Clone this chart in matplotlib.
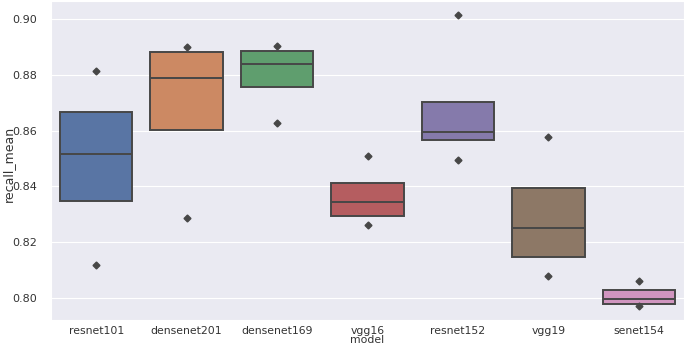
import matplotlib
matplotlib.use("Agg")
import matplotlib.pyplot as plt
import seaborn as sns

models = ["resnet101", "densenet201", "densenet169", "vgg16", "resnet152", "vgg19", "senet154"]
q1 = [0.8348, 0.8603, 0.8755, 0.8294, 0.8566, 0.8146, 0.7977]
med = [0.8517, 0.8790, 0.8840, 0.8345, 0.8597, 0.8252, 0.7996]
q3 = [0.8667, 0.8881, 0.8885, 0.8412, 0.8704, 0.8394, 0.8030]
low_pts = [0.8118, 0.8286, 0.8626, 0.8262, 0.8494, 0.8078, 0.7970]
high_pts = [0.8815, 0.8900, 0.8902, 0.8509, 0.9014, 0.8578, 0.8060]

sns.set_style("darkgrid")
plt.rcParams["font.family"] = ["DejaVu Sans"]

colors = sns.color_palette("deep", len(models), desat=0.75)
gray = "#474747"

fig = plt.figure(figsize=(6.85, 3.46), dpi=100)
ax = fig.add_axes([0.0745, 0.075, 0.924, 0.922])

stats = []
for i, m in enumerate(models):
    stats.append(dict(label=m, q1=q1[i], med=med[i], q3=q3[i],
                      whislo=q1[i], whishi=q3[i],
                      fliers=[low_pts[i], high_pts[i]]))

bp = ax.bxp(stats, positions=range(len(models)), widths=0.8, patch_artist=True,
            showcaps=False,
            boxprops=dict(edgecolor=gray, linewidth=1.4),
            medianprops=dict(color=gray, linewidth=1.4),
            whiskerprops=dict(linewidth=0),
            flierprops=dict(marker="D", markerfacecolor=gray, markeredgecolor=gray,
                            markersize=3.5))
for patch, c in zip(bp["boxes"], colors):
    patch.set_facecolor(c)

ax.set_xlim(-0.5, len(models) - 0.5)
ax.set_ylim(0.7921, 0.9065)
ax.set_yticks([0.80, 0.82, 0.84, 0.86, 0.88, 0.90])
ax.set_yticklabels(["0.80", "0.82", "0.84", "0.86", "0.88", "0.90"])
ax.set_xticks(range(len(models)))
ax.set_xticklabels(models)
ax.xaxis.grid(False)
ax.tick_params(axis="both", labelsize=8, colors="#333333", length=0)
ax.tick_params(axis="y", pad=10)
ax.tick_params(axis="x", labelsize=7.8, pad=4)
ax.set_xlabel("model", fontsize=7.8, color="#333333", va="center")
ax.xaxis.set_label_coords(0.5, -0.064)
ax.set_ylabel("recall_mean", fontsize=9, color="#333333", va="center",
              family=["Liberation Sans Narrow", "DejaVu Sans"])
ax.yaxis.set_label_coords(-0.068, 0.49)

fig.savefig("out.png", dpi=100)
